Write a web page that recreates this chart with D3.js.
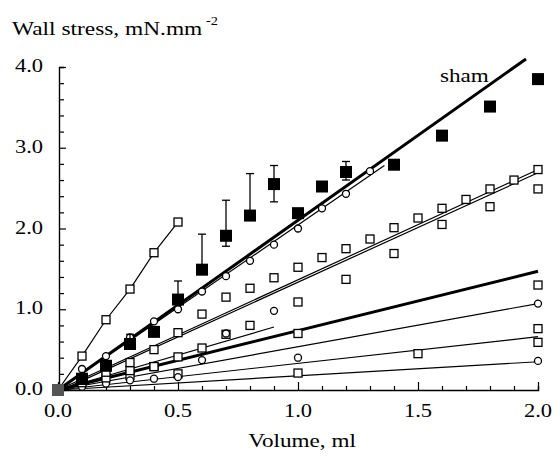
<!DOCTYPE html>
<html>
<head>
<meta charset="utf-8">
<script src="https://cdn.jsdelivr.net/npm/d3@7"></script>
<style>
  body { margin: 0; background: #fff; }
</style>
</head>
<body>
<svg id="chart" width="560" height="462"></svg>
<script>
// steep group, joined by a polyline
const volSteep = [0, 0.1, 0.2, 0.3, 0.4, 0.5];
const stressSteep = [0, 0.42, 0.87, 1.25, 1.7, 2.08];

// sham, filled squares with error bars
const volSham = [0, 0.1, 0.2, 0.3, 0.4, 0.5, 0.6, 0.7, 0.8, 0.9, 1.0, 1.1, 1.2, 1.4, 1.6, 1.8, 2.0];
const stressSham = [0, 0.14, 0.3, 0.57, 0.72, 1.12, 1.49, 1.91, 2.16, 2.55, 2.19, 2.52, 2.7, 2.79, 3.15, 3.51, 3.85];
const errUpSham = [0, 0, 0, 0.12, 0, 0.23, 0.44, 0.44, 0.52, 0.23, 0, 0, 0.13, 0, 0, 0, 0];
const errDownSham = [0, 0, 0, 0, 0, 0, 0, 0.13, 0, 0.22, 0, 0, 0.1, 0, 0, 0, 0];

// open circles along the sham line
const volCircA = [0.1, 0.2, 0.3, 0.4, 0.5, 0.6, 0.7, 0.8, 0.9, 1.0, 1.1, 1.2, 1.3];
const stressCircA = [0.26, 0.42, 0.65, 0.85, 1.0, 1.22, 1.41, 1.6, 1.8, 2.0, 2.25, 2.43, 2.71];

// open squares along the double line
const volSqA = [0.1, 0.2, 0.3, 0.4, 0.5, 0.6, 0.7, 0.8, 0.9, 1.0, 1.1, 1.2, 1.3, 1.4, 1.5, 1.6, 1.7, 1.8, 1.9, 2.0];
const stressSqA = [0.12, 0.22, 0.34, 0.5, 0.71, 0.94, 1.15, 1.26, 1.39, 1.52, 1.64, 1.75, 1.87, 2.01, 2.13, 2.25, 2.36, 2.49, 2.6, 2.73];
const volSqB = [0.2, 0.4, 0.6, 0.8, 1.0, 1.2, 1.4, 1.6, 1.8, 2.0];
const stressSqB = [0.15, 0.29, 0.52, 0.8, 1.09, 1.37, 1.69, 2.05, 2.27, 2.49];

// lower groups
const volSqC = [0.1, 0.3, 0.4, 0.5, 0.7, 1.0, 2.0];
const stressSqC = [0.09, 0.24, 0.29, 0.41, 0.69, 0.7, 1.3];
const volSqD = [0.3, 0.5, 1.0, 1.5, 2.0, 2.0];
const stressSqD = [0.18, 0.2, 0.21, 0.45, 0.76, 0.59];
const volCircB = [0.6, 0.7, 0.9, 1.0, 2.0];
const stressCircB = [0.37, 0.7, 0.98, 0.4, 1.07];
const volCircC = [0.1, 0.2, 0.3, 0.4, 0.5, 2.0];
const stressCircC = [0.04, 0.08, 0.12, 0.14, 0.16, 0.36];

// fitted lines: [start, end] as [volume, stress]
const fitSham = [[0, 0], [1.95, 4.1]];
const fitCircA = [[0, 0], [1.36, 2.78]];
const fitSqA = [[0, 0], [2.0, 2.73]];
const fitSqB = [[0, -0.02], [2.0, 2.69]];
const fitThick = [[0, 0], [2.0, 1.47]];
const fitShort = [[0, 0], [0.9, 0.78]];
const fitCircB = [[0, 0], [2.0, 1.07]];
const fitSqD = [[0, 0], [2.0, 0.66]];
const fitCircC = [[0, 0], [2.0, 0.35]];

const xTicks = [0, 0.5, 1.0, 1.5, 2.0];
const yTicks = [0, 1, 2, 3, 4];

const FONT = "'Liberation Serif'";
const svg = d3.select('#chart').attr('font-family', FONT);
const x = d3.scaleLinear().domain([0, 2]).range([58, 538]);
const y = d3.scaleLinear().domain([0, 4]).range([390, 67]);

const zip = (a, b) => a.map((v, i) => [v, b[i]]);
const line = d3.line().x(d => x(d[0])).y(d => y(d[1]));

// axes
const yAxis = d3.axisRight(y)
  .tickValues(d3.range(0, 4.01, 0.2))
  .tickSize(5)
  .tickFormat('');
const gy = svg.append('g').attr('transform', 'translate(' + (x(0) + 1) + ',0)').call(yAxis);
gy.selectAll('.tick line').attr('x2', d => (Math.abs(d - Math.round(d)) < 1e-6 ? 7 : 5));

const xAxis = d3.axisTop(x)
  .tickValues(d3.range(0, 2.01, 0.1))
  .tickSize(4)
  .tickFormat('');
const gx = svg.append('g').attr('transform', 'translate(0,' + y(0) + ')').call(xAxis);
gx.selectAll('.tick line').attr('y2', d => (Math.abs(d * 2 - Math.round(d * 2)) < 1e-6 ? -8 : -4));
svg.selectAll('.domain').attr('stroke', '#000').attr('stroke-width', 1.4);
svg.selectAll('.tick line').attr('stroke', '#000').attr('stroke-width', 1.2);

// tick labels, drawn a little wide like the scan
svg.selectAll('.ylab').data(yTicks).join('text')
  .attr('class', 'ylab')
  .attr('font-family', FONT)
  .attr('transform', d => 'translate(43,' + (y(d) + 5) + ') scale(1.25,1)')
  .attr('text-anchor', 'end')
  .attr('font-size', 18)
  .text(d => d.toFixed(1));

svg.selectAll('.xlab').data(xTicks).join('text')
  .attr('class', 'xlab')
  .attr('font-family', FONT)
  .attr('transform', d => 'translate(' + x(d) + ',417) scale(1.25,1)')
  .attr('text-anchor', 'middle')
  .attr('font-size', 18)
  .text(d => d.toFixed(1));

svg.append('text')
  .attr('font-family', FONT)
  .attr('transform', 'translate(' + (x(1) + 4) + ',447) scale(1.22,1)')
  .attr('text-anchor', 'middle')
  .attr('font-size', 19)
  .text('Volume, ml');

const title = svg.append('text')
  .attr('font-family', FONT)
  .attr('transform', 'translate(12,35) scale(1.2,1)')
  .attr('font-size', 19.5);
title.append('tspan').text('Wall stress, mN.mm');
title.append('tspan').attr('dy', -10).attr('dx', 3).attr('font-size', 12).text('-2');

svg.append('text')
  .attr('font-family', FONT)
  .attr('transform', 'translate(440,82) scale(1.25,1)')
  .attr('font-size', 18.5)
  .text('sham');

// fitted lines
const fits = [
  [fitSham, 3], [fitCircA, 1.2], [fitSqA, 1.2], [fitSqB, 1.2], [fitThick, 3],
  [fitShort, 1.2], [fitCircB, 1.2], [fitSqD, 1.2], [fitCircC, 1.2]
];
fits.forEach(([pts, w]) => {
  svg.append('path').attr('d', line(pts))
    .attr('fill', 'none').attr('stroke', '#000').attr('stroke-width', w);
});

svg.append('path').attr('d', line(zip(volSteep, stressSteep)))
  .attr('fill', 'none').attr('stroke', '#000').attr('stroke-width', 1.2);

// markers
function squares(vols, vals, size) {
  svg.append('g').selectAll('rect').data(zip(vols, vals)).join('rect')
    .attr('x', d => x(d[0]) - size / 2).attr('y', d => y(d[1]) - size / 2)
    .attr('width', size).attr('height', size)
    .attr('fill', '#fff').attr('stroke', '#000').attr('stroke-width', 1.3);
}
function circles(vols, vals) {
  svg.append('g').selectAll('circle').data(zip(vols, vals)).join('circle')
    .attr('cx', d => x(d[0])).attr('cy', d => y(d[1])).attr('r', 3.5)
    .attr('fill', '#fff').attr('stroke', '#000').attr('stroke-width', 1.3);
}

squares(volSqD, stressSqD, 8);
circles(volCircC, stressCircC);
squares(volSqC, stressSqC, 8);
circles(volCircB, stressCircB);
squares(volSqB, stressSqB, 8);
squares(volSqA, stressSqA, 8);
circles(volCircA, stressCircA);
squares(volSteep, stressSteep, 8);

// sham error bars and filled squares
const sham = volSham.map((v, i) => ({ v: v, s: stressSham[i], up: errUpSham[i], dn: errDownSham[i] }));
const eb = svg.append('g').attr('stroke', '#000').attr('stroke-width', 1.3);
sham.filter(d => d.up > 0).forEach(d => {
  eb.append('line').attr('x1', x(d.v)).attr('x2', x(d.v)).attr('y1', y(d.s)).attr('y2', y(d.s + d.up));
  eb.append('line').attr('x1', x(d.v) - 4).attr('x2', x(d.v) + 4).attr('y1', y(d.s + d.up)).attr('y2', y(d.s + d.up));
});
sham.filter(d => d.dn > 0).forEach(d => {
  eb.append('line').attr('x1', x(d.v)).attr('x2', x(d.v)).attr('y1', y(d.s)).attr('y2', y(d.s - d.dn));
  eb.append('line').attr('x1', x(d.v) - 4).attr('x2', x(d.v) + 4).attr('y1', y(d.s - d.dn)).attr('y2', y(d.s - d.dn));
});
svg.append('g').selectAll('rect').data(sham).join('rect')
  .attr('x', d => x(d.v) - 6).attr('y', d => y(d.s) - 6)
  .attr('width', 12).attr('height', 12)
  .attr('fill', d => (d.v === 0 ? '#555' : '#000'));
</script>
</body>
</html>
